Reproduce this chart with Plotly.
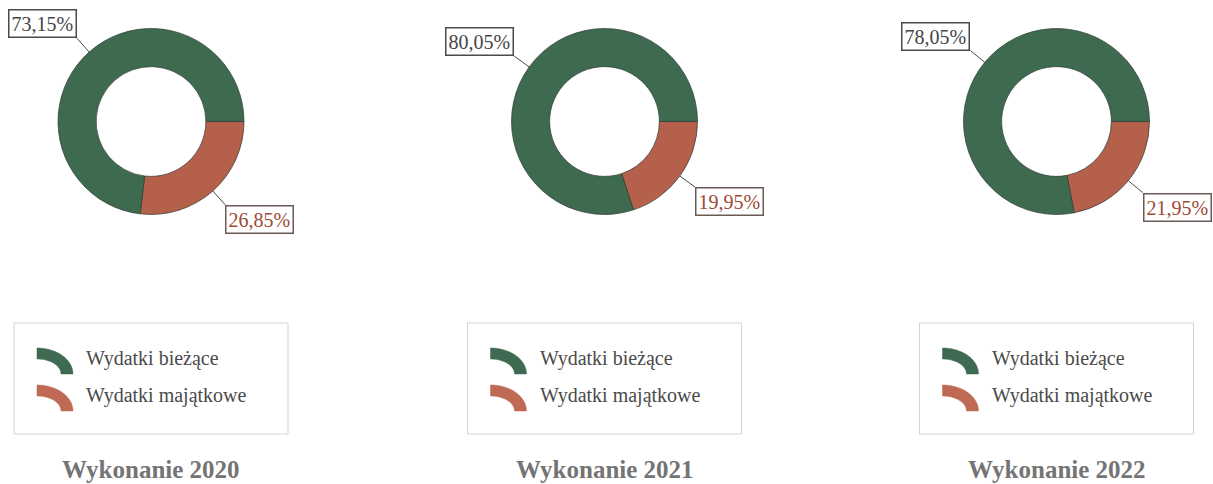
import numpy as np
import plotly.graph_objects as go

# ---- data ----
years = ["2020", "2021", "2022"]
categories = ["Wydatki bieżące", "Wydatki majątkowe"]
wydatki_biezace = [73.15, 80.05, 78.05]
wydatki_majatkowe = [26.85, 19.95, 21.95]
titles = ["Wykonanie 2020", "Wykonanie 2021", "Wykonanie 2022"]

# ---- style ----
W, H = 1213, 484
FONT = "Liberation Serif"
slice_colors = {"Wydatki bieżące": "#3e6a4f", "Wydatki majątkowe": "#b5604b"}
icon_colors = {"Wydatki bieżące": "#3f6a52", "Wydatki majątkowe": "#bf6a55"}
label_text_colors = {"Wydatki bieżące": "#454545", "Wydatki majątkowe": "#9c4a36"}
box_colors = {"Wydatki bieżące": "#4a4a4a", "Wydatki majątkowe": "#6a5a55"}
centers_x = [151, 604.5, 1056.5]
cy = 121.5
R = 93
HOLE = 0.59

fig = go.Figure()
shapes = []
annotations = []

for i, year in enumerate(years):
    cx = centers_x[i]
    vals = [wydatki_majatkowe[i], wydatki_biezace[i]]
    labs = [categories[1], categories[0]]
    fig.add_trace(go.Pie(
        values=vals, labels=labs, sort=False, direction="clockwise", rotation=90,
        hole=HOLE, textinfo="none", showlegend=False,
        marker=dict(colors=[slice_colors[l] for l in labs], line=dict(color="#2f3a33", width=0.7)),
        domain=dict(x=[(cx - R) / W, (cx + R) / W], y=[1 - (cy + R) / H, 1 - (cy - R) / H]),
        hoverinfo="label+percent",
    ))
    # value labels placed at slice mid-angles (clockwise from 3 o'clock)
    total = sum(vals)
    start = 90.0
    for v, l in zip(vals, labs):
        span = v / total * 360.0
        mid = np.radians(start + span / 2)
        start += span
        sx, sy = np.sin(mid), -np.cos(mid)
        x1, y1 = cx + R * sx, cy + R * sy
        x2, y2 = cx + R * 1.2 * sx, cy + R * 1.2 * sy
        shapes.append(dict(type="line", xref="x", yref="y", x0=x1, y0=y1, x1=x2, y1=y2,
                           line=dict(color="#4a4a4a", width=1)))
        annotations.append(dict(
            x=x2, y=y2, xref="x", yref="y", showarrow=False,
            text=f"{v:.2f}".replace(".", ",") + "%",
            xanchor="right" if sx < 0 else "left",
            yanchor="bottom" if sy < 0 else "top",
            font=dict(family=FONT, size=20, color=label_text_colors[l]),
            bgcolor="white", bordercolor=box_colors[l], borderwidth=1.5, borderpad=2,
        ))
    # legend box
    shapes.append(dict(type="rect", xref="x", yref="y", x0=cx - 137, x1=cx + 137, y0=323, y1=434,
                       line=dict(color="#d4d4d4", width=1)))
    for k, cat in enumerate(categories):
        ix = cx - 114
        iyb = 374 + k * 37
        th = np.linspace(0, np.pi / 2, 24)
        outer = [(ix + 36 * np.sin(t), iyb - 26 * np.cos(t)) for t in th]
        inner = [(ix + 24 * np.sin(t), iyb - 15 * np.cos(t)) for t in th[::-1]]
        pts = outer + inner
        path = "M " + " L ".join(f"{px:.2f},{py:.2f}" for px, py in pts) + " Z"
        shapes.append(dict(type="path", xref="x", yref="y", path=path,
                           fillcolor=icon_colors[cat], line=dict(color=icon_colors[cat], width=0.5)))
        annotations.append(dict(x=cx - 67, y=iyb - 16, xref="x", yref="y", showarrow=False,
                                text=cat, xanchor="left", yanchor="middle",
                                font=dict(family=FONT, size=20, color="#4a4a4a")))
    annotations.append(dict(x=cx, y=469, xref="x", yref="y", showarrow=False,
                            text=f"<b>{titles[i]}</b>", xanchor="center", yanchor="middle",
                            font=dict(family=FONT, size=25, color="#747474")))

fig.update_layout(
    width=W, height=H, margin=dict(l=0, r=0, t=0, b=0),
    paper_bgcolor="white", plot_bgcolor="rgba(0,0,0,0)",
    xaxis=dict(range=[0, W], visible=False, fixedrange=True),
    yaxis=dict(range=[H, 0], visible=False, fixedrange=True),
    shapes=shapes, annotations=annotations, showlegend=False,
)

fig.write_html("out.html", config={"displayModeBar": False},
               post_script="document.body.style.margin='0';")
